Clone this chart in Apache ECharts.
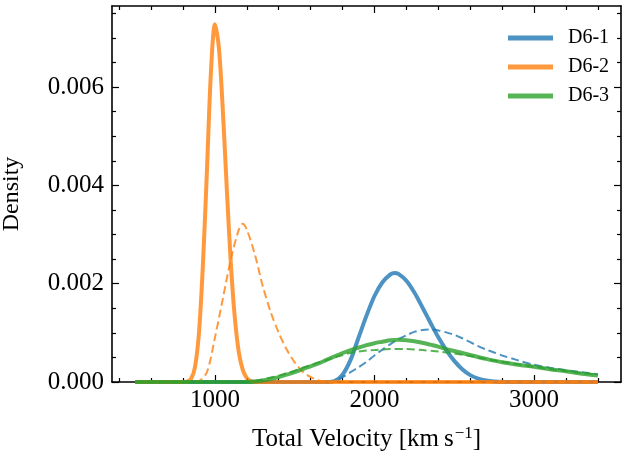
<!DOCTYPE html>
<html>
<head>
<meta charset="utf-8">
<script src="https://cdn.jsdelivr.net/npm/echarts@6/dist/echarts.min.js"></script>
<style>
html,body{margin:0;padding:0;background:#fff;}
#chart{width:625px;height:452px;}
</style>
</head>
<body>
<div id="chart"></div>
<script>
// ---- data ----
const legendNames = ['D6-1', 'D6-2', 'D6-3'];

const blueSolidX = [500, 1700, 1750, 1800, 1850, 1900, 1950, 2000, 2050, 2100, 2125, 2150, 2200, 2250, 2300, 2350, 2400, 2450, 2500, 2550, 2600, 2650, 2700, 2750, 2800, 3400];
const blueSolidY = [0, 0, 0.00002, 0.00015, 0.00045, 0.0009, 0.00135, 0.00175, 0.00203, 0.00219, 0.00222, 0.00220, 0.00206, 0.00182, 0.00152, 0.00121, 0.00091, 0.00065, 0.00043, 0.00026, 0.00014, 0.00007, 0.00003, 0.00001, 0, 0];

const blueDashX = [500, 1700, 1750, 1800, 1850, 1900, 1950, 2000, 2050, 2100, 2150, 2200, 2250, 2300, 2350, 2400, 2450, 2500, 2550, 2600, 2650, 2700, 2750, 2800, 2900, 3000, 3100, 3200, 3300, 3400];
const blueDashY = [0, 0, 0.00002, 0.0001, 0.0002, 0.0003, 0.00041, 0.00054, 0.00066, 0.00077, 0.00087, 0.00095, 0.00102, 0.00106, 0.00107, 0.00105, 0.00101, 0.00096, 0.00089, 0.00081, 0.00073, 0.00066, 0.00060, 0.00054, 0.00044, 0.00035, 0.00029, 0.00024, 0.00020, 0.00016];

const orangeSolidX = [500, 800, 825, 850, 875, 900, 925, 950, 975, 1000, 1025, 1050, 1075, 1100, 1125, 1150, 1175, 1200, 1225, 1250, 3400];
const orangeSolidY = [0, 0, 0.00001, 0.00006, 0.0003, 0.0010, 0.0024, 0.0043, 0.0063, 0.00728, 0.0068, 0.0055, 0.0039, 0.0024, 0.0013, 0.0006, 0.00024, 0.00008, 0.00002, 0, 0];

const orangeDashX = [500, 850, 900, 950, 1000, 1050, 1100, 1150, 1175, 1200, 1250, 1300, 1350, 1400, 1450, 1500, 1550, 1600, 1650, 1700, 3400];
const orangeDashY = [0, 0, 0.00002, 0.0002, 0.0009, 0.0017, 0.0025, 0.0031, 0.00322, 0.0031, 0.0026, 0.00195, 0.00142, 0.00100, 0.00066, 0.0004, 0.00021, 0.0001, 0.00003, 0, 0];

const greenSolidX = [500, 1200, 1250, 1300, 1350, 1400, 1450, 1500, 1550, 1600, 1650, 1700, 1750, 1800, 1850, 1900, 1950, 2000, 2050, 2100, 2150, 2200, 2250, 2300, 2350, 2400, 2450, 2500, 2550, 2600, 2700, 2800, 2900, 3000, 3100, 3200, 3300, 3400];
const greenSolidY = [0, 0, 0.00001, 0.00003, 0.00006, 0.0001, 0.00015, 0.0002, 0.00026, 0.00032, 0.00038, 0.00045, 0.00052, 0.00059, 0.00065, 0.0007, 0.00075, 0.00079, 0.00082, 0.00085, 0.00086, 0.00085, 0.00083, 0.00080, 0.00076, 0.00072, 0.00067, 0.00063, 0.00059, 0.00055, 0.00047, 0.0004, 0.00035, 0.00031, 0.00026, 0.00022, 0.00017, 0.00013];

const greenDashX = [500, 1200, 1250, 1300, 1350, 1400, 1450, 1500, 1550, 1600, 1650, 1700, 1750, 1800, 1850, 1900, 1950, 2000, 2100, 2200, 2300, 2400, 2500, 2600, 2700, 2800, 2900, 3000, 3100, 3200, 3300, 3400];
const greenDashY = [0, 0, 0.00002, 0.00005, 0.00009, 0.00013, 0.00018, 0.00023, 0.00029, 0.00034, 0.0004, 0.00045, 0.0005, 0.00055, 0.00059, 0.00062, 0.00064, 0.00065, 0.00067, 0.00067, 0.00065, 0.00062, 0.00058, 0.00053, 0.00047, 0.00041, 0.00036, 0.00031, 0.00026, 0.00022, 0.00018, 0.00015];

const xMajorTicks = [1000, 2000, 3000];
const xMinorTicks = [400, 600, 800, 1200, 1400, 1600, 1800, 2200, 2400, 2600, 2800, 3200, 3400];
const yMajorTicks = [0, 0.002, 0.004, 0.006];
const yMinorTicks = [0.0005, 0.001, 0.0015, 0.0025, 0.003, 0.0035, 0.0045, 0.005, 0.0055, 0.0065, 0.007, 0.0075];

// ---- chart ----
const pairs = (xs, ys) => xs.map((x, i) => [x, ys[i]]);
const FONT = '"Liberation Serif", "DejaVu Serif", serif';
const BLUE = 'rgba(31,119,180,0.8)';
const ORANGE = 'rgba(255,127,14,0.8)';
const GREEN = 'rgba(44,160,44,0.8)';

const X_MIN = 355, X_MAX = 3545, Y_MIN = 0, Y_MAX = 0.00765;

function xAx(pos, ticks, len, labels, lineShow, extra) {
  return Object.assign({
    type: 'value', position: pos, min: X_MIN, max: X_MAX, gridIndex: 0,
    axisLine: { show: lineShow, onZero: false, lineStyle: { color: '#000', width: 1.6 } },
    axisTick: { show: true, inside: true, length: len, customValues: ticks, lineStyle: { color: '#000', width: 1.2 } },
    axisLabel: labels ? { show: true, customValues: ticks, color: '#000', fontFamily: FONT, fontSize: 25, margin: 6,
      formatter: v => String(Math.round(v)) } : { show: false },
    splitLine: { show: false }
  }, extra || {});
}
function yAx(pos, ticks, len, labels, lineShow, extra) {
  return Object.assign({
    type: 'value', position: pos, min: Y_MIN, max: Y_MAX, gridIndex: 0,
    axisLine: { show: lineShow, onZero: false, lineStyle: { color: '#000', width: 1.6 } },
    axisTick: { show: true, inside: true, length: len, customValues: ticks, lineStyle: { color: '#000', width: 1.2 } },
    axisLabel: labels ? { show: true, customValues: ticks, color: '#000', fontFamily: FONT, fontSize: 25, margin: 8,
      formatter: v => Number(v).toFixed(3) } : { show: false },
    splitLine: { show: false }
  }, extra || {});
}

function line(name, data, color, width, dashed, z) {
  return {
    name: name, type: 'line', data: data, xAxisIndex: 0, yAxisIndex: 0,
    showSymbol: false, symbol: 'none', smooth: 0.3, z: z,
    lineStyle: { color: color, width: width, type: dashed ? [8, 4] : 'solid', cap: 'butt' },
    itemStyle: { color: color },
    emphasis: { disabled: true }
  };
}

const chart = echarts.init(document.getElementById('chart'), null, { renderer: 'canvas' });
chart.setOption({
  animation: false,
  backgroundColor: '#fff',
  grid: { left: 112, right: 4, top: 6, bottom: 70, containLabel: false, outerBoundsMode: 'none' },
  xAxis: [
    xAx('bottom', xMajorTicks, 7, true, true, {
      name: '{n|Total Velocity [km\u2009s}{sup|\u22121}{n|]}',
      nameLocation: 'middle', nameGap: 43,
      nameTextStyle: {
        rich: {
          n: { fontFamily: FONT, fontSize: 25, color: '#000' },
          sup: { fontFamily: FONT, fontSize: 17, color: '#000', verticalAlign: 'top', padding: [0, 0, 12, 1] }
        }
      }
    }),
    xAx('bottom', xMinorTicks, 4, false, false),
    xAx('top', xMajorTicks, 7, false, true),
    xAx('top', xMinorTicks, 4, false, false)
  ],
  yAxis: [
    yAx('left', yMajorTicks, 7, true, true, {
      name: 'Density', nameLocation: 'middle', nameGap: 88, nameRotate: 90,
      nameTextStyle: { fontFamily: FONT, fontSize: 24, color: '#000' }
    }),
    yAx('left', yMinorTicks, 4, false, false),
    yAx('right', yMajorTicks, 7, false, true),
    yAx('right', yMinorTicks, 4, false, false)
  ],
  legend: {
    data: legendNames,
    orient: 'vertical', left: 503, top: 23,
    icon: 'rect', itemWidth: 45, itemHeight: 5, itemGap: 9,
    textStyle: { fontFamily: FONT, fontSize: 20, color: '#000', padding: [0, 0, 0, 10], lineHeight: 20 },
    selectedMode: false
  },
  series: [
    line('D6-1', pairs(blueSolidX, blueSolidY), BLUE, 4, false, 2),
    line('D6-1 dashed', pairs(blueDashX, blueDashY), BLUE, 2, true, 2),
    line('D6-2', pairs(orangeSolidX, orangeSolidY), ORANGE, 4, false, 3),
    line('D6-2 dashed', pairs(orangeDashX, orangeDashY), ORANGE, 2, true, 3),
    line('D6-3', pairs(greenSolidX, greenSolidY), GREEN, 4, false, 4),
    line('D6-3 dashed', pairs(greenDashX, greenDashY), GREEN, 2, true, 4)
  ]
});
</script>
</body>
</html>
